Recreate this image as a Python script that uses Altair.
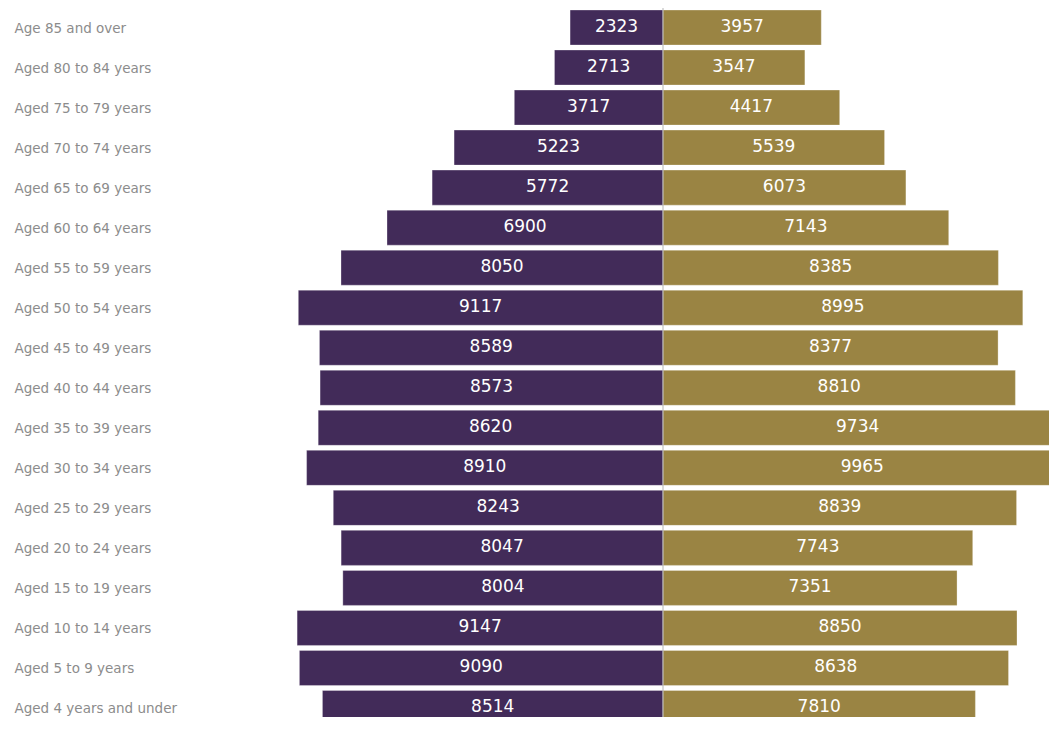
import altair as alt
import pandas as pd

ages = ["Age 85 and over", "Aged 80 to 84 years", "Aged 75 to 79 years",
        "Aged 70 to 74 years", "Aged 65 to 69 years", "Aged 60 to 64 years",
        "Aged 55 to 59 years", "Aged 50 to 54 years", "Aged 45 to 49 years",
        "Aged 40 to 44 years", "Aged 35 to 39 years", "Aged 30 to 34 years",
        "Aged 25 to 29 years", "Aged 20 to 24 years", "Aged 15 to 19 years",
        "Aged 10 to 14 years", "Aged 5 to 9 years", "Aged 4 years and under"]
male = [2323, 2713, 3717, 5223, 5772, 6900, 8050, 9117, 8589, 8573, 8620,
        8910, 8243, 8047, 8004, 9147, 9090, 8514]
female = [3957, 3547, 4417, 5539, 6073, 7143, 8385, 8995, 8377, 8810, 9734,
          9965, 8839, 7743, 7351, 8850, 8638, 7810]

rows = []
for a, m, f in zip(ages, male, female):
    rows.append({"age": a, "sex": "Male", "value": m, "signed": -m})
    rows.append({"age": a, "sex": "Female", "value": f, "signed": f})
df = pd.DataFrame(rows)

xscale = alt.Scale(domain=[-10000, 9650], nice=False, zero=False)
yscale = alt.Scale(range=[-0.5, 720], paddingInner=0.125, paddingOuter=0.0625)

base = alt.Chart(df)

bars = base.mark_bar(clip=True, stroke="white", strokeWidth=0.5, strokeOpacity=0.6).encode(
    x=alt.X("signed:Q", scale=xscale, axis=None),
    y=alt.Y("age:N", sort=ages, scale=yscale,
            axis=alt.Axis(title=None, domain=False, ticks=False, tickSize=0, grid=False,
                          labelAlign="left", labelPadding=249, labelLimit=400,
                          labelFont="DejaVu Sans", labelFontSize=13.5,
                          labelColor="#8c8c8c", labelBaseline="middle", labelOffset=1)),
    color=alt.Color("sex:N", scale=alt.Scale(domain=["Male", "Female"],
                                             range=["#422b59", "#9a8443"]),
                    legend=None),
)

labels = base.transform_calculate(mid="datum.signed / 2").mark_text(
    clip=True, color="white", font="DejaVu Sans", fontSize=17,
    align="center", baseline="middle", dy=-1
).encode(
    x=alt.X("mid:Q", scale=xscale),
    y=alt.Y("age:N", sort=ages, scale=yscale),
    text=alt.Text("value:Q", format="d"),
)

zero = alt.Chart(pd.DataFrame({"z": [0]})).mark_rule(
    color="#b5b5b5", strokeWidth=1
).encode(x=alt.X("z:Q", scale=xscale))

chart = alt.layer(bars, zero, labels).properties(
    width=786, height=709,
    padding={"left": 255, "top": 0, "right": 0, "bottom": 0},
    autosize=alt.AutoSizeParams(type="none"),
).configure_view(stroke=None)

chart.save("out.html", embed_options={"renderer": "svg", "actions": False})
